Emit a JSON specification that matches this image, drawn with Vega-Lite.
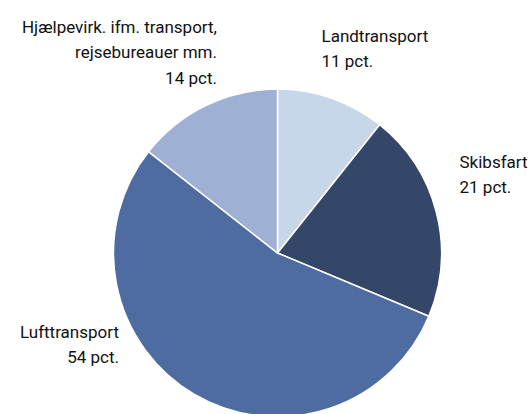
{
  "$schema": "https://vega.github.io/schema/vega-lite/v6.json",
  "width": 555,
  "height": 506,
  "autosize": "none",
  "padding": 0,
  "background": "white",
  "config": {"view": {"stroke": null}},
  "data": {"values": [
    {"k": 1, "name": "Landtransport", "value": 10.7, "label": "Landtransport\n11 pct."},
    {"k": 2, "name": "Skibsfart", "value": 20.6, "label": "Skibsfart\n21 pct."},
    {"k": 3, "name": "Lufttransport", "value": 54.3, "label": "Lufttransport\n54 pct."},
    {"k": 4, "name": "Hjælpevirk", "value": 14.4, "label": "Hjælpevirk. ifm. transport,\nrejsebureauer mm.\n14 pct."}
  ]},
  "encoding": {
    "theta": {"field": "value", "type": "quantitative", "stack": true},
    "order": {"field": "k", "type": "quantitative"}
  },
  "layer": [
    {
      "mark": {"type": "arc", "outerRadius": 164, "stroke": "white", "strokeWidth": 1.5},
      "encoding": {
        "color": {
          "field": "name", "type": "nominal",
          "scale": {"domain": ["Landtransport", "Skibsfart", "Lufttransport", "Hjælpevirk"],
                    "range": ["#c8d6ea", "#354769", "#4f6ca2", "#9eb0d3"]},
          "legend": null
        }
      }
    },
    {
      "mark": {"type": "text", "radius": 190, "align": "left", "baseline": "alphabetic", "dx": -18.7, "dy": -31.9,
               "lineBreak": "\n", "lineHeight": 25.5, "font": "Roboto", "fontSize": 17, "color": "#111111"},
      "encoding": {"text": {"condition": {"test": "datum.name === 'Landtransport'", "field": "label", "type": "nominal"}, "value": ""}}
    },
    {
      "mark": {"type": "text", "radius": 190, "align": "left", "baseline": "alphabetic", "dx": -2, "dy": -38,
               "lineBreak": "\n", "lineHeight": 25.5, "font": "Roboto", "fontSize": 17, "color": "#111111"},
      "encoding": {"text": {"condition": {"test": "datum.name === 'Skibsfart'", "field": "label", "type": "nominal"}, "value": ""}}
    },
    {
      "mark": {"type": "text", "radius": 190, "align": "right", "baseline": "alphabetic", "dx": -62.3, "dy": -79.1,
               "lineBreak": "\n", "lineHeight": 25.5, "font": "Roboto", "fontSize": 17, "color": "#111111"},
      "encoding": {"text": {"condition": {"test": "datum.name === 'Lufttransport'", "field": "label", "type": "nominal"}, "value": ""}}
    },
    {
      "mark": {"type": "text", "radius": 190, "align": "right", "baseline": "alphabetic", "dx": 22.5, "dy": -49.4,
               "lineBreak": "\n", "lineHeight": 25.5, "font": "Roboto", "fontSize": 17, "color": "#111111"},
      "encoding": {"text": {"condition": {"test": "datum.name === 'Hjælpevirk'", "field": "label", "type": "nominal"}, "value": ""}}
    }
  ]
}
